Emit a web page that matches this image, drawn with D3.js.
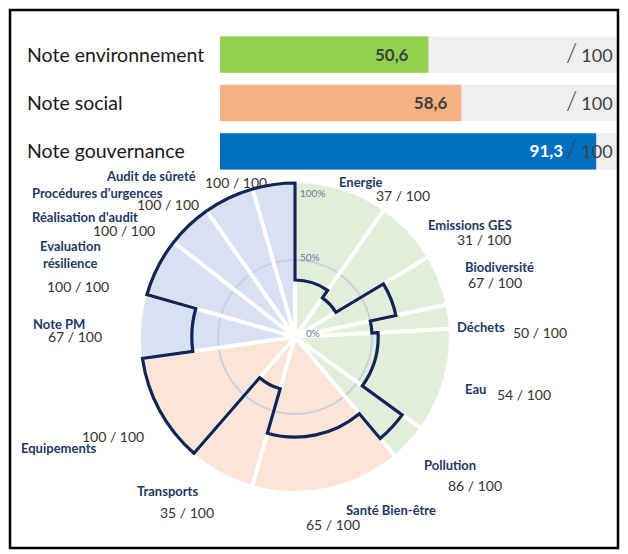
<!DOCTYPE html>
<html><head><meta charset="utf-8">
<script src="https://cdn.jsdelivr.net/npm/d3@7"></script>
<style>body{margin:0;background:#fff}svg{display:block}</style>
</head><body>
<svg id="c" width="628" height="554"></svg>
<script>
// ---- data ----
const pillars = ["Note environnement", "Note social", "Note gouvernance"];
const pillarScores = [50.6, 58.6, 91.3];
const pillarMax = 100;

const criteria = ["Energie", "Emissions GES", "Biodiversité", "Déchets", "Eau", "Pollution",
  "Santé Bien-être", "Transports", "Equipements",
  "Note PM", "Evaluation résilience", "Réalisation d'audit", "Procédures d'urgences", "Audit de sûreté"];
const criteriaPillar = [0, 0, 0, 0, 0, 0, 1, 1, 1, 2, 2, 2, 2, 2];
const criteriaScores = [37, 31, 67, 50, 54, 86, 65, 35, 100, 67, 100, 100, 100, 100];
const criteriaWeights = [35, 24, 19, 9, 39, 14, 56, 25, 41, 24, 22, 17, 19, 16];
const radialTicks = [0, 50, 100];

// ---- layout / style (not data) ----
const barColors = ["#92d050", "#f4b183", "#0070c0"];
const barTextColors = ["#404040", "#404040", "#ffffff"];
const wedgeColors = ["#e2eed9", "#fce4d6", "#d8e0f1"];
const valueLabelPad = [20, 14, 33];
const labelFont = "Lato, 'Open Sans', sans-serif";
const namePos = [[339,183],[428,226],[465,268],[457,328],[465,390],[424,466],[346,511],[137,492],[21,449],[33,325],[40,247],[32,218],[32,194],[107,177]];
const valuePos = [[376,196],[457,240],[468,283],[513,333],[497,395],[448,486],[306,525],[160,513],[82,437],[48,337],[47,287],[93,231],[137,205],[205,183]];
const tickOffset = [[11,-4],[5,-3],[5,10]];

const svg = d3.select("#c");
const fmt = v => String(v).replace(".", ",");

// ---- top bars ----
const xB = d3.scaleLinear().domain([0, pillarMax]).range([220, 632]);
const yB = d3.scaleBand().domain(pillars).range([34, 172]).paddingInner(0.25).paddingOuter(0.05);

const topG = svg.append("g");
topG.selectAll("rect.track").data(pillars).join("rect").attr("class", "track")
  .attr("x", xB(0)).attr("y", d => yB(d)).attr("width", 618 - xB(0)).attr("height", yB.bandwidth())
  .attr("fill", "#efefef");
topG.selectAll("rect.bar").data(pillars).join("rect").attr("class", "bar")
  .attr("x", xB(0)).attr("y", d => yB(d))
  .attr("width", (d, i) => xB(pillarScores[i]) - xB(0)).attr("height", yB.bandwidth())
  .attr("fill", (d, i) => barColors[i]);
topG.selectAll("text.name").data(pillars).join("text").attr("class", "name")
  .attr("x", 27).attr("y", d => yB(d) + yB.bandwidth() / 2 + 7)
  .attr("font-family", labelFont).attr("font-size", 19.5).attr("fill", "#1a1a1a").text(d => d);
topG.selectAll("text.val").data(pillars).join("text").attr("class", "val")
  .attr("x", (d, i) => xB(pillarScores[i]) - valueLabelPad[i])
  .attr("y", d => yB(d) + yB.bandwidth() / 2 + 6)
  .attr("text-anchor", "end").attr("font-family", labelFont).attr("font-weight", "bold")
  .attr("font-size", 17).attr("fill", (d, i) => barTextColors[i]).text((d, i) => fmt(pillarScores[i]));
const maxT = topG.selectAll("text.max").data(pillars).join("text").attr("class", "max")
  .attr("x", 566).attr("y", d => yB(d) + yB.bandwidth() / 2 + 7)
  .attr("font-family", labelFont).attr("fill", "#404040");
maxT.append("tspan").attr("font-size", 26).attr("font-weight", 300).text("/");
maxT.append("tspan").attr("font-size", 18).attr("dx", 4).text(String(pillarMax));

// ---- radial chart ----
const cx = 295, cy = 337, R = 154;
const total = d3.sum(criteriaWeights);
const cum = Array.from(d3.cumsum([0, ...criteriaWeights]));
const ang = d3.scaleLinear().domain([0, total]).range([0, 2 * Math.PI]);
const r = d3.scaleLinear().domain([0, 100]).range([0, R]);

const g = svg.append("g").attr("transform", `translate(${cx},${cy})`);
const arc = d3.arc().innerRadius(0).outerRadius(R);
g.selectAll("path.w").data(criteria).join("path").attr("class", "w")
  .attr("d", (d, i) => arc({startAngle: ang(cum[i]), endAngle: ang(cum[i + 1])}))
  .attr("fill", (d, i) => wedgeColors[criteriaPillar[i]]);

g.append("circle").attr("r", r(50)).attr("fill", "none").attr("stroke", "#c9cee0").attr("stroke-width", 2);

g.selectAll("line.sep").data(cum.slice(0, -1)).join("line").attr("class", "sep")
  .attr("x1", 0).attr("y1", 0)
  .attr("x2", d => Math.sin(ang(d)) * (R + 2)).attr("y2", d => -Math.cos(ang(d)) * (R + 2))
  .attr("stroke", "#fff").attr("stroke-width", 4);

const p = d3.path();
criteria.forEach((c, i) => {
  const a0 = ang(cum[i]) - Math.PI / 2, a1 = ang(cum[i + 1]) - Math.PI / 2;
  const rr = r(criteriaScores[i]);
  if (i === 0) p.moveTo(Math.cos(a0) * rr, Math.sin(a0) * rr);
  p.arc(0, 0, rr, a0, a1);
});
p.closePath();
g.append("path").attr("d", p.toString()).attr("fill", "none")
  .attr("stroke", "#0f2656").attr("stroke-width", 3.2).attr("stroke-linejoin", "miter");

g.selectAll("text.tick").data(radialTicks).join("text").attr("class", "tick")
  .attr("x", (d, i) => tickOffset[i][0]).attr("y", (d, i) => -r(d) + tickOffset[i][1] + 3.5)
  .attr("font-family", labelFont).attr("font-size", 10).attr("fill", "#6a7aa0").text(d => d + "%");

// labels
criteria.forEach((c, i) => {
  const [nx, ny] = namePos[i];
  const lines = c === "Evaluation résilience" ? ["Evaluation", "résilience"] : [c];
  lines.forEach((t, k) => {
    svg.append("text").attr("x", nx + k * 3).attr("y", ny + 4 + k * 17).attr("font-family", labelFont)
      .attr("font-weight", "bold").attr("font-size", 13).attr("fill", "#1f3864").text(t);
  });
  const [vx, vy] = valuePos[i];
  svg.append("text").attr("x", vx).attr("y", vy + 5).attr("font-family", labelFont)
    .attr("font-size", 14).attr("fill", "#333").text(`${criteriaScores[i]} / 100`);
});

// frame
svg.append("rect").attr("x", 10).attr("y", 10).attr("width", 608).attr("height", 538)
  .attr("fill", "none").attr("stroke", "#000").attr("stroke-width", 2.5);
</script>
</body></html>
